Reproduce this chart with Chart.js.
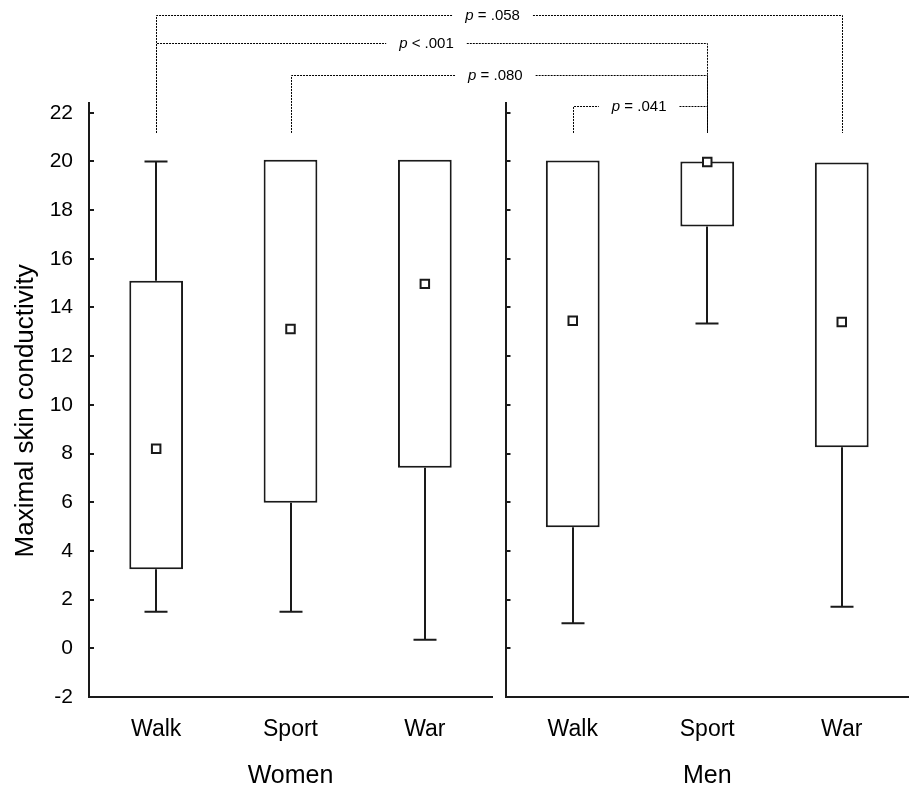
<!DOCTYPE html>
<html>
<head>
<meta charset="utf-8">
<script src="https://cdn.jsdelivr.net/npm/chart.js@4.4.0/dist/chart.umd.min.js"></script>
<style>
  html, body { margin: 0; padding: 0; background: #fff; }
  #wrap { position: relative; width: 909px; height: 788px; }
  #wrap canvas { position: absolute; left: 0; top: 0; }
</style>
</head>
<body>
<div id="wrap">
  <canvas id="women" width="909" height="788"></canvas>
  <canvas id="men" width="909" height="788"></canvas>
</div>
<script>
// datos
const categories = ['Walk', 'Sport', 'War'];
const yTickValues = [-2, 0, 2, 4, 6, 8, 10, 12, 14, 16, 18, 20, 22];

// Women
const womenBoxLow = [3.25, 5.98, 7.42];
const womenBoxHigh = [15.1, 20.07, 20.07];
const womenWhiskerLow = [1.5, 1.5, 0.35];
const womenWhiskerHigh = [20.0, 20.07, 20.07];
const womenMean = [8.2, 13.12, 14.97];

// Men
const menBoxLow = [4.97, 17.33, 8.26];
const menBoxHigh = [20.04, 20.0, 19.96];
const menWhiskerLow = [1.03, 13.34, 1.71];
const menWhiskerHigh = [20.04, 20.0, 19.96];
const menMean = [13.46, 19.98, 13.4];

// corchetes de significancia
const bracketText = ['= .058', '< .001', '= .080', '= .041'];
const bracketFromGroup = ['Women', 'Women', 'Women', 'Men'];
const bracketFromCat = ['Walk', 'Walk', 'Sport', 'Walk'];
const bracketToGroup = ['Men', 'Men', 'Men', 'Men'];
const bracketToCat = ['War', 'Sport', 'Sport', 'Sport'];
const bracketLevel = [26.0, 24.87, 23.56, 22.29];
const bracketFoot = 21.17;

const FONT = "'Liberation Sans', Arial, sans-serif";
const INK = '#1a1a1a';
const charts = {};

// bigotes (whiskers) dibujados con las escalas del grafico
const whiskerPlugin = {
  id: 'whiskers',
  afterDatasetsDraw(chart, args, opts) {
    const { ctx, scales: { x, y } } = chart;
    ctx.save();
    ctx.strokeStyle = INK;
    ctx.lineWidth = 2;
    opts.boxLow.forEach((lo, i) => {
      const px = Math.round(x.getPixelForValue(i));
      const segs = [[lo, opts.low[i]], [opts.boxHigh[i], opts.high[i]]];
      segs.forEach(([a, b]) => {
        if (Math.abs(a - b) < 0.05) return;
        const ya = y.getPixelForValue(a);
        const yb = y.getPixelForValue(b);
        ctx.beginPath();
        ctx.moveTo(px, ya);
        ctx.lineTo(px, yb);
        ctx.moveTo(px - 11.5, yb);
        ctx.lineTo(px + 11.5, yb);
        ctx.stroke();
      });
    });
    ctx.restore();
  }
};

// corchetes con p, cruzan los dos paneles
const bracketPlugin = {
  id: 'brackets',
  afterDraw(chart) {
    const ctx = chart.ctx;
    const y = chart.scales.y;
    const xOf = (g, c) => {
      const ch = g === 'Men' ? chart : charts.Women;
      return Math.round(ch.scales.x.getPixelForValue(categories.indexOf(c))) + 0.5;
    };
    const yFoot = y.getPixelForValue(bracketFoot);
    ctx.save();
    ctx.strokeStyle = '#000';
    ctx.lineWidth = 1;
    ctx.setLineDash([2, 1]);
    ctx.fillStyle = '#000';
    ctx.textBaseline = 'middle';
    bracketText.forEach((txt, i) => {
      const x1 = xOf(bracketFromGroup[i], bracketFromCat[i]);
      const x2 = xOf(bracketToGroup[i], bracketToCat[i]);
      const yl = Math.round(y.getPixelForValue(bracketLevel[i])) + 0.5;
      ctx.font = 'italic 15px ' + FONT;
      const wp = ctx.measureText('p').width;
      ctx.font = '15px ' + FONT;
      const wr = ctx.measureText(' ' + txt).width;
      const cx = x1 + (x2 - x1) * 0.49;
      const tx = cx - (wp + wr) / 2;
      const pad = 13;
      ctx.beginPath();
      ctx.moveTo(x1, yFoot);
      ctx.lineTo(x1, yl);
      ctx.lineTo(tx - pad, yl);
      ctx.moveTo(tx + wp + wr + pad, yl);
      ctx.lineTo(x2, yl);
      ctx.lineTo(x2, yFoot);
      ctx.stroke();
      ctx.font = 'italic 15px ' + FONT;
      ctx.fillText('p', tx, yl);
      ctx.font = '15px ' + FONT;
      ctx.fillText(' ' + txt, tx + wp, yl);
    });
    ctx.restore();
  }
};

function makeChart(id, group, boxLow, boxHigh, wLow, wHigh, mean, isLeft) {
  const ctx = document.getElementById(id).getContext('2d');
  return new Chart(ctx, {
    type: 'bar',
    data: {
      labels: categories,
      datasets: [
        {
          type: 'line',
          data: mean,
          showLine: false,
          pointStyle: 'rect',
          pointRadius: 6,
          pointBackgroundColor: '#fff',
          pointBorderColor: INK,
          pointBorderWidth: 2,
          order: 0
        },
        {
          data: boxLow.map((lo, i) => [lo, boxHigh[i]]),
          backgroundColor: '#fff',
          borderColor: INK,
          borderWidth: 2,
          borderSkipped: false,
          barPercentage: 0.4,
          categoryPercentage: 1,
          order: 1
        }
      ]
    },
    options: {
      responsive: false,
      animation: false,
      // panel izquierdo 89..492, panel derecho 505.5..909
      layout: {
        autoPadding: false,
        padding: { top: 103, left: isLeft ? 0 : 495.5, right: isLeft ? 417 : 0, bottom: 0 }
      },
      plugins: {
        legend: { display: false },
        tooltip: { enabled: false },
        whiskers: { boxLow: boxLow, boxHigh: boxHigh, low: wLow, high: wHigh }
      },
      scales: {
        x: {
          grid: { display: false, drawTicks: false },
          border: { display: true, color: INK, width: 2 },
          ticks: { color: '#000', font: { family: FONT, size: 23 }, padding: 19 },
          title: { display: true, text: group, color: '#000', font: { family: FONT, size: 25 }, padding: { top: 0, bottom: -3 } },
          afterFit: (s) => {
            s.height = 91;
            s.paddingLeft = 0;
            s.paddingRight = 0;
          }
        },
        y: {
          min: -2,
          max: 22.4,
          afterBuildTicks: (s) => { s.ticks = yTickValues.map(v => ({ value: v })); },
          grid: { drawOnChartArea: false, tickLength: -5, color: INK, lineWidth: 2 },
          border: { color: INK, width: 2 },
          ticks: { display: isLeft, color: '#000', font: { family: FONT, size: 21 }, padding: 21 },
          title: { display: isLeft, text: 'Maximal skin conductivity   ', color: '#000', font: { family: FONT, size: 26 }, padding: { top: 10, bottom: 0 } },
          afterFit: (s) => {
            s.width = isLeft ? 89 : 10;
            s.paddingTop = 0;
            s.paddingBottom = 0;
          }
        }
      }
    },
    plugins: isLeft ? [whiskerPlugin] : [whiskerPlugin, bracketPlugin]
  });
}

charts.Women = makeChart('women', 'Women', womenBoxLow, womenBoxHigh, womenWhiskerLow, womenWhiskerHigh, womenMean, true);
charts.Men = makeChart('men', 'Men', menBoxLow, menBoxHigh, menWhiskerLow, menWhiskerHigh, menMean, false);
</script>
</body>
</html>
